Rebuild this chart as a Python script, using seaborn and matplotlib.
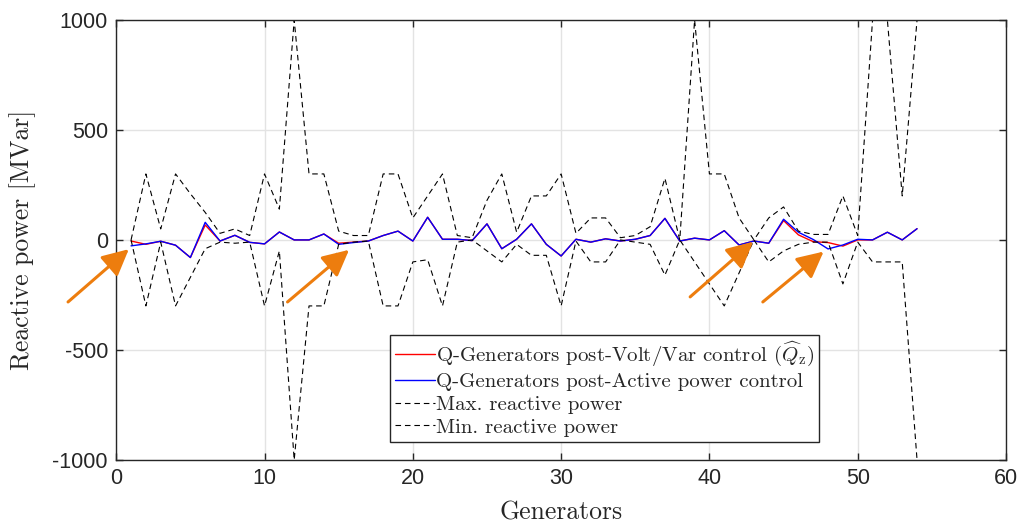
import numpy as np
import matplotlib
matplotlib.use("Agg")
import matplotlib.pyplot as plt
import seaborn as sns

generators = np.arange(1, 55)
q_volt_var = [-5, -20, -6, -24, -80, 68, -5, 21, -11, -18,
              36, 0, 0, 27, -15, -10, -5, 20, 40, -5,
              103, 3, 3, -3, 73, -40, 3, 73, -20, -73,
              3, -10, 5, -5, 3, 20, 98, -5, 8, 0,
              42, -23, -5, -15, 88, 23, -8, -12, -28, 0,
              0, 35, 0, 51]
q_active = [-27, -18, -6, -24, -80, 80, -5, 21, -11, -18,
            36, 0, 0, 27, -20, -12, -5, 20, 40, -5,
            103, 3, 3, -3, 73, -40, 3, 73, -20, -73,
            3, -10, 5, -5, 3, 20, 98, -5, 8, 0,
            42, -23, -5, -15, 94, 35, 2, -41, -23, 3,
            0, 35, 0, 51]
q_max = [0, 300, 50, 300, 210, 125, 30, 50, 20, 300,
         140, 1000, 300, 300, 40, 20, 20, 300, 300, 100,
         200, 300, 20, 10, 180, 300, 35, 200, 200, 300,
         30, 100, 100, 10, 20, 60, 280, 0, 1000, 300,
         300, 100, 0, 100, 150, 40, 25, 25, 200, 20,
         1000, 1000, 200, 1000]
q_min = [0, -300, -10, -300, -170, -40, -10, -15, -10, -300,
         -50, -1000, -300, -300, -20, -10, -5, -300, -300, -100,
         -90, -300, -10, 0, -50, -100, -20, -70, -70, -300,
         -5, -100, -100, 0, -10, -20, -160, 0, -100, -200,
         -300, -150, 0, -100, -50, -20, -10, -10, -200, -10,
         -100, -100, -100, -1000]

labels = [r"Q-Generators post-Volt/Var control ($\widehat{Q}_{\mathrm{z}}$)",
          "Q-Generators post-Active power control",
          "Max. reactive power",
          "Min. reactive power"]

sns.set_style("ticks")
plt.rcParams["mathtext.fontset"] = "cm"
plt.rcParams["font.family"] = ["Liberation Sans", "DejaVu Sans"]
plt.rcParams["axes.unicode_minus"] = False

fig = plt.figure(figsize=(10.35, 5.25), dpi=100)
ax = fig.add_axes([0.1123, 0.124, 0.8597, 0.838])

sns.lineplot(x=generators, y=q_volt_var, color="#ff0000", lw=1.0, ax=ax,
             label=labels[0], estimator=None, sort=False)
sns.lineplot(x=generators, y=q_active, color="#0000ff", lw=1.0, ax=ax,
             label=labels[1], estimator=None, sort=False)
sns.lineplot(x=generators, y=q_max, color="black", lw=0.8, ax=ax,
             label=labels[2], estimator=None, sort=False, linestyle=(0, (5, 3.5)))
sns.lineplot(x=generators, y=q_min, color="black", lw=0.8, ax=ax,
             label=labels[3], estimator=None, sort=False, linestyle=(0, (5, 3.5)))

ax.set_xlim(0, 60)
ax.set_ylim(-1000, 1000)
ax.set_xticks(np.arange(0, 61, 10))
ax.set_yticks(np.arange(-1000, 1001, 500))
ax.grid(True, color="#e3e3e3", lw=1.0)
ax.set_axisbelow(True)
for s in ax.spines.values():
    s.set_color("#262626")
    s.set_linewidth(1.0)
ax.tick_params(direction="in", top=True, right=True, length=5, width=1,
               color="#262626", labelcolor="#262626", labelsize=15.5, pad=6)

serif = ["cmr10", "DejaVu Serif"]
ax.set_xlabel("Generators", fontsize=18.5, family=serif, color="#262626", labelpad=8)
ax.set_ylabel("Reactive power [MVar]", fontsize=18.5, family=serif, color="#262626", labelpad=12)

leg = ax.legend(loc="lower left", bbox_to_anchor=(0.3077, 0.041), prop={"family": serif, "size": 15},
                frameon=True, fancybox=False, framealpha=1, edgecolor="#262626",
                handlelength=1.9, handletextpad=0.05, labelspacing=0.2, borderpad=0.25,
                borderaxespad=0)
leg.get_frame().set_linewidth(1.0)

orange = "#ED7D0E"
arrows = [((-3.25, -282), (0.85, -42)),
          ((11.55, -282), (15.7, -45)),
          ((38.7, -259), (42.95, -8)),
          ((43.6, -282), (47.7, -53))]
for tail, head in arrows:
    ax.annotate("", xy=head, xytext=tail, annotation_clip=False,
                arrowprops=dict(arrowstyle="-|>,head_length=0.8,head_width=0.4",
                                color=orange, lw=2.2, mutation_scale=20,
                                shrinkA=0, shrinkB=0))

fig.savefig("out.png", dpi=100)
